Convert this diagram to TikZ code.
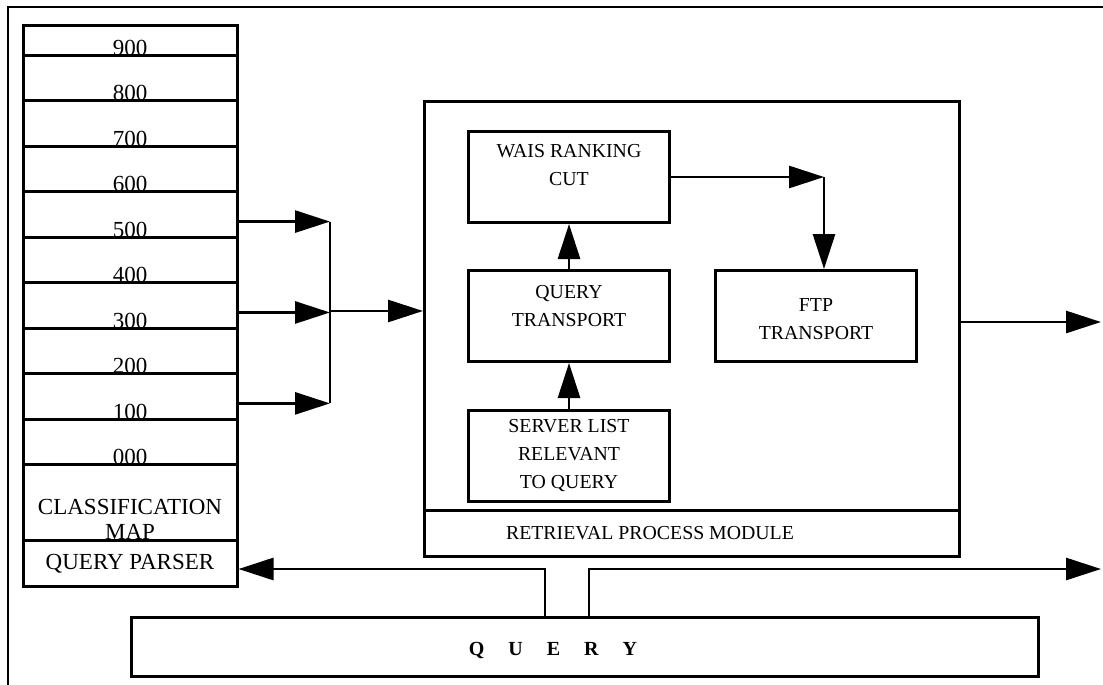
\documentclass[tikz,border=0pt]{standalone}
\usepackage{fontspec}
\setmainfont{Liberation Serif}
\usetikzlibrary{arrows.meta,positioning}

\begin{document}
\begin{tikzpicture}[x=1pt,y=-1pt,
    cell/.style={draw,line width=3pt,minimum width=214pt,inner sep=0pt,anchor=north},
    blk/.style={draw,line width=3pt,minimum width=201pt,minimum height=91pt,inner sep=0pt,
                font=\fontsize{19.8}{28}\selectfont,align=center},
    big/.style={draw,line width=3pt,inner sep=0pt,anchor=north west},
    numtxt/.style={font=\fontsize{23}{25}\selectfont,inner sep=0pt},
    txt/.style={font=\fontsize{19.8}{28}\selectfont,inner sep=0pt,align=center},
    arw/.style={line width=2.8pt,-{Triangle[length=35pt,width=22pt]}},
    conn/.style={line width=2.8pt}]
    \useasboundingbox (0,0) rectangle (1103,685);
    % outer frame (cut off at right and bottom)
    \coordinate (fbl) at (8,685);
    \coordinate (ftl) at (8,7);
    \coordinate (ftr) at (1103,7);
    \draw[line width=2.6pt] (fbl) -- (ftl) -- (ftr);

    % classification column
    \node[cell,minimum height=30pt] (r900) at (130,24) {};
    \node[numtxt,anchor=base] (t900) at ([yshift=1.5pt]r900.south) {900};
    \foreach \lab [count=\i] in {800,700,600,500,400,300,200,100,000} {
      \node[cell,minimum height=45.45pt] (r\lab) at (130,{54+(\i-1)*45.45}) {};
      \node[numtxt,anchor=base] (t\lab) at ([yshift=1.5pt]r\lab.south) {\lab};
    }
    \node[cell,minimum height=76pt] (cmap) at (130,463) {};
    \node[numtxt,align=center,anchor=south] (tcmap) at ([yshift=2.5pt]cmap.south) {CLASSIFICATION\\MAP};
    \node[cell,minimum height=46pt,font=\fontsize{23}{26}\selectfont] (qp) at (130,539) {QUERY PARSER};

    % retrieval process module
    \node[big,minimum width=535pt,minimum height=409pt] (retr) at (423,100) {};
    \node[big,minimum width=535pt,minimum height=46pt] (rpm) at (423,509) {};
    \node[txt] (trpm) at ([xshift=-42pt]rpm.center) {RETRIEVAL PROCESS MODULE};

    \node[blk,anchor=north west] (wais) at (467,130) {};
    \node[txt,anchor=north] (twais) at ([yshift=-14pt]wais.north) {WAIS RANKING\\CUT};
    \node[blk,below=45pt of wais] (qt) {};
    \node[txt] (tqt) at ([yshift=10pt]qt.center) {QUERY\\TRANSPORT};
    \node[blk,below=46pt of qt] (server) {SERVER LIST\\RELEVANT\\TO QUERY};
    \node[blk,right=43pt of qt] (ftp) {};
    \node[txt] (tftp) at ([yshift=-3pt]ftp.center) {FTP\\TRANSPORT};

    % query bar
    \node[big,minimum width=907pt,minimum height=59pt] (query) at (130,616) {};
    \node[font=\bfseries\fontsize{20}{24}\selectfont,inner sep=0pt] (tquery)
        at ([xshift=-32pt,yshift=-3pt]query.center) {Q\hspace{24pt}U\hspace{24pt}E\hspace{24pt}R\hspace{24pt}Y};

    % fan-in from the classes
    \coordinate (fan) at (330,311);
    \foreach \lab in {500,300,100}
      \draw[arw] ([yshift=-7pt]r\lab.east) -- ([yshift=-7pt]r\lab.east -| fan);
    \draw[conn] ([yshift=-7pt]r500.east -| fan) -- ([yshift=-7pt]r100.east -| fan);
    \draw[arw] (fan) -- (fan -| retr.west);

    % inside the module
    \draw[arw] (server.north) -- (qt.south);
    \draw[arw] (qt.north) -- (wais.south);
    \coordinate (bend) at ([xshift=8pt]wais.east -| ftp.north);
    \draw[arw] (wais.east) -- (bend);
    \draw[arw] (bend) -- (bend |- ftp.north);

    % outputs
    \coordinate (out1) at (1101,322);
    \draw[arw] (retr.east |- out1) -- (out1);
    \coordinate (lstub) at (545,569);
    \coordinate (rstub) at (589,569);
    \coordinate (out2) at (1101,569);
    \draw[arw] (lstub |- query.north) -- (lstub) -- (lstub -| qp.east);
    \draw[arw] (rstub |- query.north) -- (rstub) -- (out2);
\end{tikzpicture}
\end{document}
